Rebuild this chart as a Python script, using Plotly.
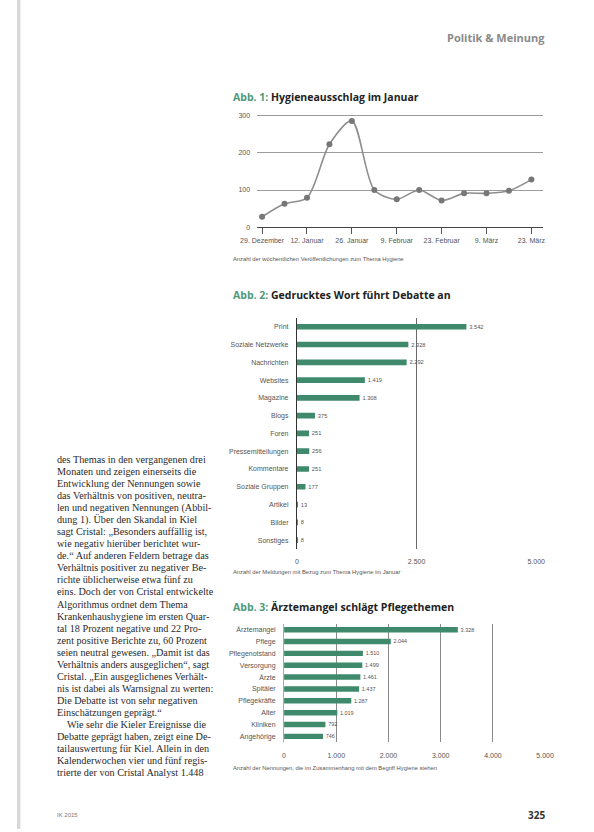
import plotly.graph_objects as go

W, H = 594, 832
# the page is photographed with the figure drawn about 17 px in and about 570 px wide;
# these helpers turn reference-pixel positions into paper fractions accordingly
X0, XW = 17.0, 570.0


def px(x):
    return min(1.0, max(0.0, (x - X0) / XW))


def py(y):
    return 1 - y / H


# ---------------- data ----------------
weeks = ["2014-12-29", "2015-01-05", "2015-01-12", "2015-01-19", "2015-01-26",
         "2015-02-02", "2015-02-09", "2015-02-16", "2015-02-23", "2015-03-02",
         "2015-03-09", "2015-03-16", "2015-03-23"]
hygiene_counts = [28, 63, 79, 223, 286, 100, 75, 100, 72, 91, 91, 98, 128]
week_ticks = ["2014-12-29", "2015-01-12", "2015-01-26", "2015-02-09",
              "2015-02-23", "2015-03-09", "2015-03-23"]
week_tick_labels = ["29. Dezember", "12. Januar", "26. Januar", "9. Februar",
                    "23. Februar", "9. März", "23. März"]
count_ticks = [0, 100, 200, 300]

source_names = ["Print", "Soziale Netzwerke", "Nachrichten", "Websites", "Magazine",
                "Blogs", "Foren", "Pressemitteilungen", "Kommentare",
                "Soziale Gruppen", "Artikel", "Bilder", "Sonstiges"]
source_counts = [3542, 2328, 2292, 1419, 1308, 375, 251, 256, 251, 177, 13, 8, 8]
source_ticks = [0, 2500, 5000]
source_tick_labels = ["0", "2.500", "5.000"]

topic_names = ["Ärztemangel", "Pflege", "Pflegenotstand", "Versorgung", "Ärzte",
               "Spitäler", "Pflegekräfte", "Alter", "Kliniken", "Angehörige"]
topic_counts = [3328, 2044, 1510, 1499, 1461, 1437, 1287, 1019, 792, 746]
topic_ticks = [0, 1000, 2000, 3000, 4000, 5000]
topic_tick_labels = ["0", "1.000", "2.000", "3.000", "4.000", "5.000"]

body_lines = [
    "des Themas in den vergangenen drei",
    "Monaten und zeigen einerseits die",
    "Entwicklung der Nennungen sowie",
    "das Verhältnis von positiven, neutra-",
    "len und negativen Nennungen (Abbil-",
    "dung 1). Über den Skandal in Kiel",
    "sagt Cristal: „Besonders auffällig ist,",
    "wie negativ hierüber berichtet wur-",
    "de.“ Auf anderen Feldern betrage das",
    "Verhältnis positiver zu negativer Be-",
    "richte üblicherweise etwa fünf zu",
    "eins. Doch der von Cristal entwickelte",
    "Algorithmus ordnet dem Thema",
    "Krankenhaushygiene im ersten Quar-",
    "tal 18 Prozent negative und 22 Pro-",
    "zent positive Berichte zu, 60 Prozent",
    "seien neutral gewesen. „Damit ist das",
    "Verhältnis anders ausgeglichen“, sagt",
    "Cristal. „Ein ausgeglichenes Verhält-",
    "nis ist dabei als Warnsignal zu werten:",
    "Die Debatte ist von sehr negativen",
    "Einschätzungen geprägt.“",
    "    Wie sehr die Kieler Ereignisse die",
    "Debatte geprägt haben, zeigt eine De-",
    "tailauswertung für Kiel. Allein in den",
    "Kalenderwochen vier und fünf regis-",
    "trierte der von Cristal Analyst 1.448",
]


def de_num(v):
    return "\u2002" + f"{v:,}".replace(",", ".")


GREEN = "#3f8a6d"
SANS = "Liberation Sans"
SERIF = "Liberation Serif"

fig = go.Figure()

fig.add_trace(go.Scatter(
    x=weeks, y=hygiene_counts, mode="lines+markers",
    line=dict(color="#8e8e8e", width=1.6, shape="spline", smoothing=0.8),
    marker=dict(color="#777777", size=6),
    xaxis="x", yaxis="y", cliponaxis=False, showlegend=False,
))

fig.add_trace(go.Bar(
    x=source_counts, y=source_names, orientation="h", width=0.32,
    marker=dict(color=GREEN, line=dict(width=0)),
    text=[de_num(v) for v in source_counts], textposition="outside",
    textfont=dict(family=SANS, size=7, color="#555"),
    cliponaxis=False, xaxis="x2", yaxis="y2", showlegend=False,
))

fig.add_trace(go.Bar(
    x=topic_counts, y=topic_names, orientation="h", width=0.46,
    marker=dict(color=GREEN, line=dict(width=0)),
    text=[de_num(v) for v in topic_counts], textposition="outside",
    textfont=dict(family=SANS, size=7, color="#555"),
    cliponaxis=False, xaxis="x3", yaxis="y3", showlegend=False,
))

tickfont = dict(family=SANS, size=7, color="#555")

annotations = []
annotations.append(dict(x=px(549), y=py(38), xref="paper", yref="paper",
                        text="<b>Politik &amp; Meinung</b>", showarrow=False,
                        xanchor="right", yanchor="middle",
                        font=dict(family="Open Sans", size=11, color="#8a8a8a")))

titles = [
    ("Abb. 1:", "Hygieneausschlag im Januar", 97),
    ("Abb. 2:", "Gedrucktes Wort führt Debatte an", 296),
    ("Abb. 3:", "Ärztemangel schlägt Pflegethemen", 609),
]
for lab, txt, yy in titles:
    annotations.append(dict(
        x=px(232), y=py(yy), xref="paper", yref="paper", showarrow=False,
        xanchor="left", yanchor="middle",
        text=f"<b><span style='color:#4f9a7c'>{lab}</span> {txt}</b>",
        font=dict(family="Open Sans", size=10.5, color="#222")))

captions = [
    ("Anzahl der wöchentlichen Veröffentlichungen zum Thema Hygiene", 260),
    ("Anzahl der Meldungen mit Bezug zum Thema Hygiene im Januar", 574),
    ("Anzahl der Nennungen, die im Zusammenhang mit dem Begriff Hygiene stehen", 771),
]
for txt, yy in captions:
    annotations.append(dict(
        x=px(232), y=py(yy), xref="paper", yref="paper", showarrow=False,
        xanchor="left", yanchor="middle", text=txt,
        font=dict(family=SANS, size=5.8, color="#555")))

for i, line in enumerate(body_lines):
    annotations.append(dict(
        x=px(55), y=py(461 + 12.1 * i), xref="paper", yref="paper",
        showarrow=False, xanchor="left", yanchor="middle", text=line,
        font=dict(family=SERIF, size=10.2, color="#2a2a2a")))

annotations.append(dict(x=px(55), y=py(818), xref="paper", yref="paper",
                        showarrow=False, xanchor="left", yanchor="middle",
                        text="IK 2015", font=dict(family=SANS, size=6, color="#777")))
annotations.append(dict(x=px(549), y=py(818), xref="paper", yref="paper",
                        showarrow=False, xanchor="right", yanchor="middle",
                        text="<b>325</b>", font=dict(family="Open Sans", size=10, color="#333")))

fig.update_layout(
    width=W, height=H,
    margin=dict(l=0, r=0, t=0, b=0),
    paper_bgcolor="white", plot_bgcolor="rgba(0,0,0,0)",
    showlegend=False,
    annotations=annotations,
    shapes=[dict(type="rect", xref="paper", yref="paper",
                 x0=0, x1=0.006, y0=0, y1=1,
                 fillcolor="#d9d9d9", line=dict(width=0), layer="below")],
    xaxis=dict(domain=[px(258), px(545)], type="date", anchor="y",
               range=["2014-12-27 11:00", "2015-03-26 16:00"],
               tickmode="array", tickvals=week_ticks, ticktext=week_tick_labels,
               ticks="outside", ticklen=6, tickcolor="#555", tickwidth=1,
               showgrid=False, zeroline=False, showline=True,
               linecolor="#444", linewidth=1, tickfont=tickfont),
    yaxis=dict(domain=[py(228), py(112)], range=[0, 311], anchor="x",
               tickmode="array", tickvals=count_ticks,
               showgrid=True, gridcolor="#9c9c9c", gridwidth=1,
               zeroline=False, showline=False, tickfont=tickfont,
               ticklabelstandoff=6),
    xaxis2=dict(domain=[px(298), px(538)], range=[0, 5000], anchor="y2",
                tickmode="array", tickvals=source_ticks, ticktext=source_tick_labels,
                showgrid=True, gridcolor="#6a6a6a", gridwidth=1,
                zeroline=False, showline=False, tickfont=tickfont,
                ticklabelstandoff=7),
    yaxis2=dict(domain=[py(551), py(319)], anchor="x2", autorange="reversed",
                type="category", showline=True, linecolor="#333", linewidth=1.2,
                showgrid=False, zeroline=False, tickfont=tickfont,
                ticklabelstandoff=6),
    xaxis3=dict(domain=[px(285), px(547)], range=[0, 5000], anchor="y3",
                tickmode="array", tickvals=topic_ticks, ticktext=topic_tick_labels,
                showgrid=True, gridcolor="#8a8a8a", gridwidth=1,
                zeroline=False, showline=False, tickfont=tickfont,
                ticklabelstandoff=8),
    yaxis3=dict(domain=[py(745), py(626)], anchor="x3", autorange="reversed",
                type="category", showline=True, linecolor="#aaa", linewidth=1,
                showgrid=False, zeroline=False, tickfont=tickfont,
                ticklabelstandoff=6),
)

fig.write_html(
    "out.html",
    config={"responsive": False, "displayModeBar": False},
    post_script="document.body.style.margin='0';document.body.style.overflow='hidden';",
)
